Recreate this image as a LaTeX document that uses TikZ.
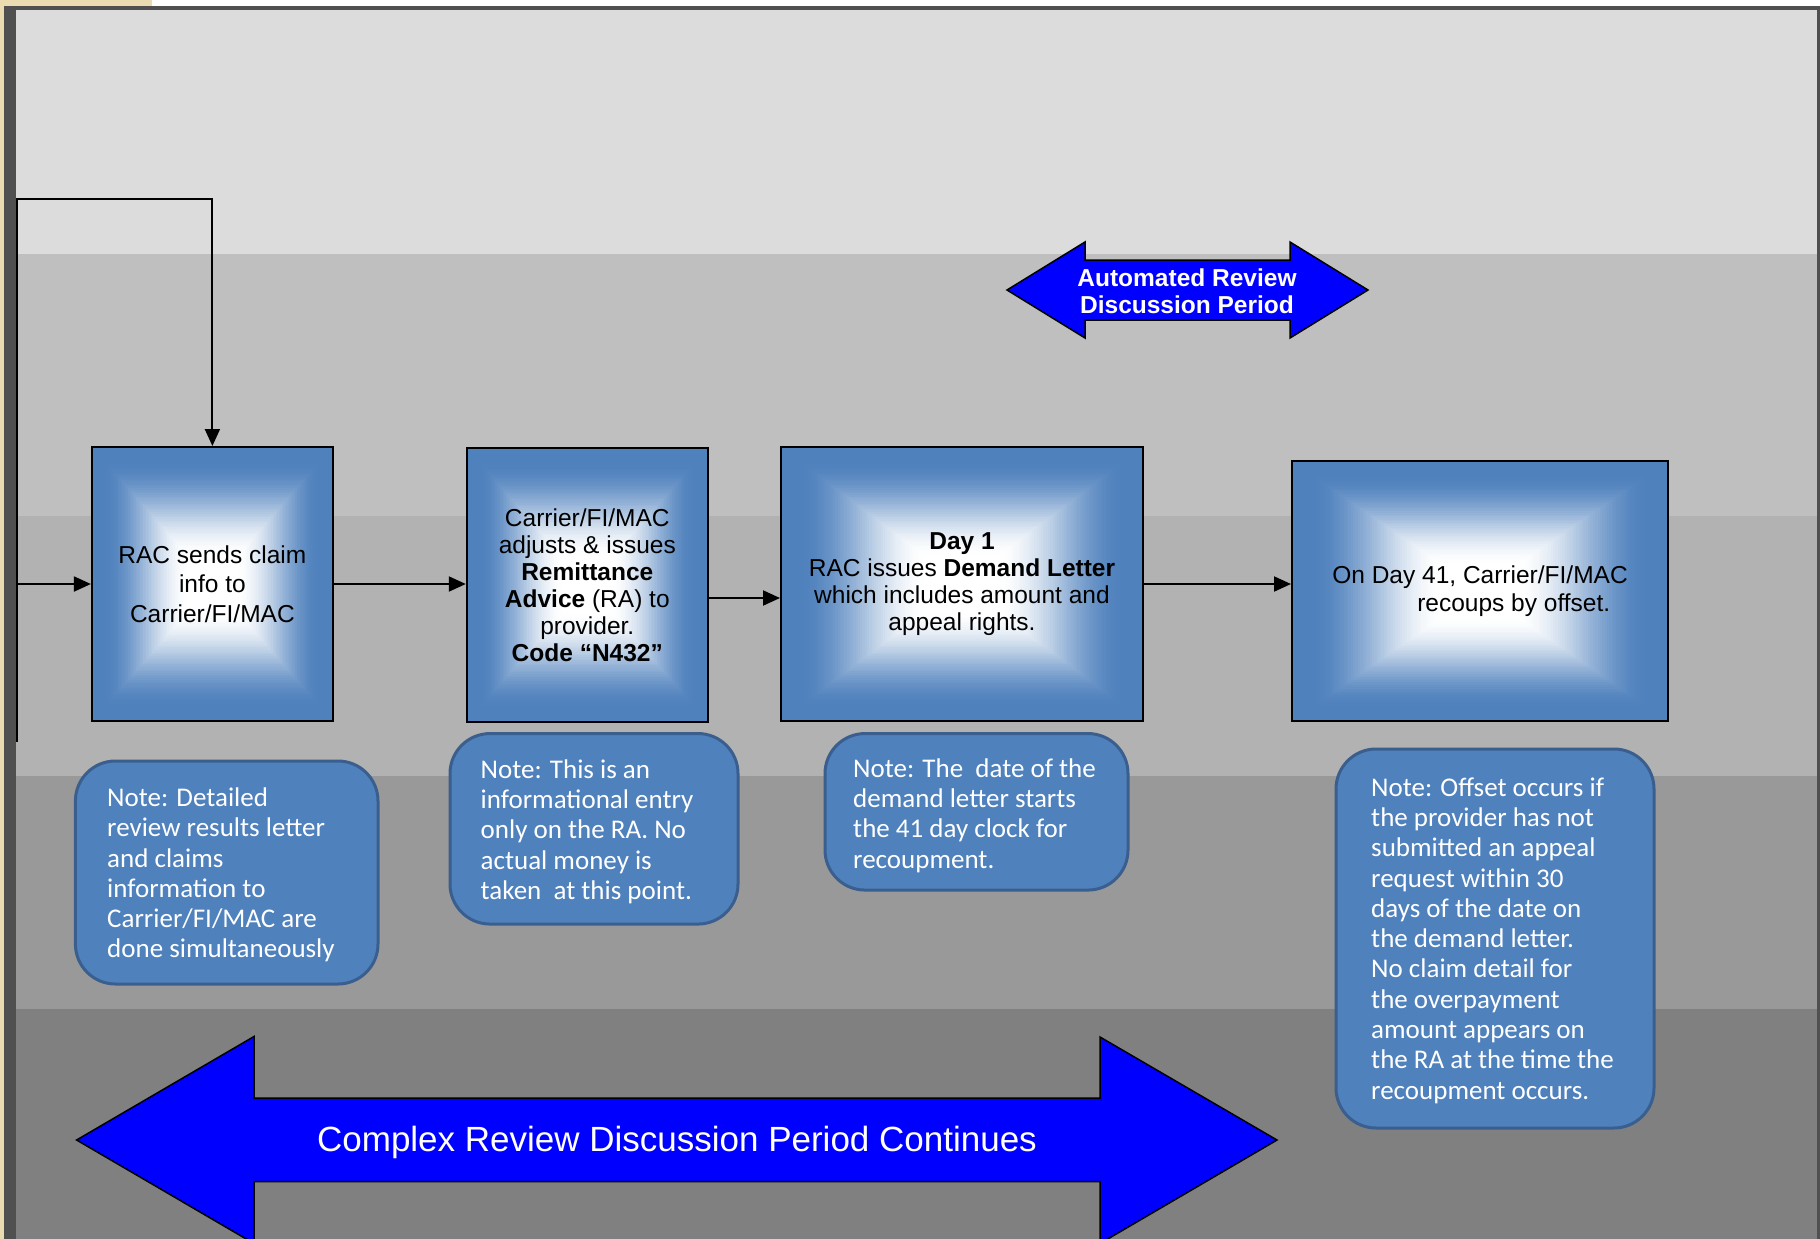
\documentclass[tikz,border=0pt]{standalone}
\usepackage{fontspec}
\setmainfont{Liberation Sans}
\newfontfamily\notefont{Carlito}
\usetikzlibrary{arrows.meta,calc}
\definecolor{gblue}{HTML}{4F81BD}
\definecolor{nborder}{HTML}{3A5F8E}
\definecolor{framegray}{HTML}{505050}
\definecolor{beige}{HTML}{EADBB0}
\definecolor{bandA}{HTML}{DCDCDC}
\definecolor{bandB}{HTML}{BFBFBF}
\definecolor{bandC}{HTML}{B2B2B2}
\definecolor{bandD}{HTML}{999999}
\definecolor{bandE}{HTML}{808080}
\definecolor{pureblue}{HTML}{0000FF}
\tikzset{
  conn/.style={draw=black,line width=2pt,-{Triangle[length=17pt,width=15pt]}},
  gbox/.style={draw=black, line width=2pt, inner sep=0pt, text=black,
    path picture={
      \foreach \k in {0,...,79}{
        \pgfmathsetmacro\s{1-\k/80}
        \pgfmathsetmacro\u{max(0,min(1,(\k/80-0.1)/0.7))}
        \pgfmathsetmacro\p{100*(1-(3*\u*\u-2*\u*\u*\u))}
        \fill[gblue!\p!white] ($(path picture bounding box.center)!\s!(path picture bounding box.south west)$) rectangle ($(path picture bounding box.center)!\s!(path picture bounding box.north east)$);
      }
    }},
  notebox/.style={draw=nborder, line width=3pt, fill=gblue, rounded corners=40pt, inner sep=0pt},
  notetext/.style={anchor=west, inner sep=0pt, align=left, text=white,
    font=\notefont\fontsize{27}{30.3}\selectfont},
  bigarrow/.style={fill=pureblue, draw=black, line width=1.5pt, line join=miter},
  arrowtext/.style={text=white, inner sep=0pt, align=center}
}
\begin{document}
\begin{tikzpicture}[x=1pt,y=-1pt]
\useasboundingbox (0,0) rectangle (1820,1239);
% background
\fill[white] (0,0) rectangle (1820,1239);
\fill[beige] (0,0) rectangle (4,1239);
\fill[beige] (0,0) rectangle (152,6);
\fill[framegray] (4,6) rectangle (1820,1239);
\fill[bandA] (16,10) rectangle (1817,254);
\fill[bandB] (16,254) rectangle (1817,516);
\fill[bandC] (16,516) rectangle (1817,776);
\fill[bandD] (16,776) rectangle (1817,1009);
\fill[bandE] (16,1009) rectangle (1817,1239);

% process boxes
\node[gbox, minimum width=241pt, minimum height=274pt, align=center,
      font=\fontsize{24.5}{29.5}\selectfont] (box1) at (212.4,584)
  {RAC sends claim\\info to\\Carrier/FI/MAC};
\node[gbox, minimum width=241pt, minimum height=274pt, align=center,
      font=\fontsize{24.5}{27}\selectfont] (box2) at (587.3,585)
  {Carrier/FI/MAC\\adjusts \& issues\\\textbf{Remittance}\\\textbf{Advice} (RA) to\\provider.\\\textbf{Code “N432”}};
\node[gbox, minimum width=362pt, minimum height=274pt, align=center,
      font=\fontsize{24.5}{27}\selectfont] (box3) at (962,584)
  {\textbf{Day 1}\\RAC issues \textbf{Demand Letter}\\which includes amount and\\appeal rights.};
\node[gbox, minimum width=376pt, minimum height=260pt, align=left,
      font=\fontsize{24.5}{28}\selectfont] (box4) at (1480,591)
  {On Day 41, Carrier/FI/MAC\\\hspace*{85pt}recoups by offset.};

% connectors
\coordinate (loopbot) at (17,742);
\coordinate (looptop) at (17,199);
\coordinate (inleft) at (17,584);
\draw[conn] (loopbot) -- (looptop) -| (box1.north);
\draw[conn] (inleft) -- (box1.west);
\draw[conn] (box1.east) -- (box2.west |- box1.east);
\draw[conn] ([yshift=-13pt]box2.east) -- ([yshift=-14pt]box3.west);
\draw[conn] (box3.east) -- (box4.west |- box3.east);

% notes
\node[notebox, minimum width=302.6pt, minimum height=223pt] (note1) at (226.7,872.5) {};
\node[notetext] (note1t) at (107,875)
  {Note: Detailed\\review results letter\\and claims\\information to\\Carrier/FI/MAC are\\done simultaneously};
\node[notebox, minimum width=288pt, minimum height=190.5pt] (note2) at (594,828.8) {};
\node[notetext] (note2t) at (480.5,831.5)
  {Note: This is an\\informational entry\\only on the RA. No\\actual money is\\taken\ \ at this point.};
\node[notebox, minimum width=303pt, minimum height=156.5pt] (note3) at (976.5,811.8) {};
\node[notetext] (note3t) at (853,815.5)
  {Note: The\ \ date of the\\demand letter starts\\the 41 day clock for\\recoupment.};
\node[notebox, minimum width=318pt, minimum height=379pt] (note4) at (1495,938.5) {};
\node[notetext] (note4t) at (1371,940.5)
  {Note: Offset occurs if\\the provider has not\\submitted an appeal\\request within 30\\days of the date on\\the demand letter.\\No claim detail for\\the overpayment\\amount appears on\\the RA at the time the\\recoupment occurs.};

% automated review double arrow
\draw[bigarrow] (1007,290) -- (1085,242) -- (1085,260) -- (1290,260) -- (1290,242)
  -- (1368,290) -- (1290,338) -- (1290,320) -- (1085,320) -- (1085,338) -- cycle;
\node[arrowtext, font=\bfseries\fontsize{24.5}{27}\selectfont] (autotext) at (1187,291)
  {Automated Review\\Discussion Period};

% complex review double arrow
\draw[bigarrow] (76.6,1140) -- (254,1036.5) -- (254,1098) -- (1100,1098) -- (1100,1037)
  -- (1277,1140) -- (1100,1243.5) -- (1100,1181.6) -- (254,1181.6) -- (254,1243.5) -- cycle;
\node[arrowtext, font=\fontsize{35}{40}\selectfont] (complextext) at (677,1142)
  {Complex Review Discussion Period Continues};
\end{tikzpicture}
\end{document}
